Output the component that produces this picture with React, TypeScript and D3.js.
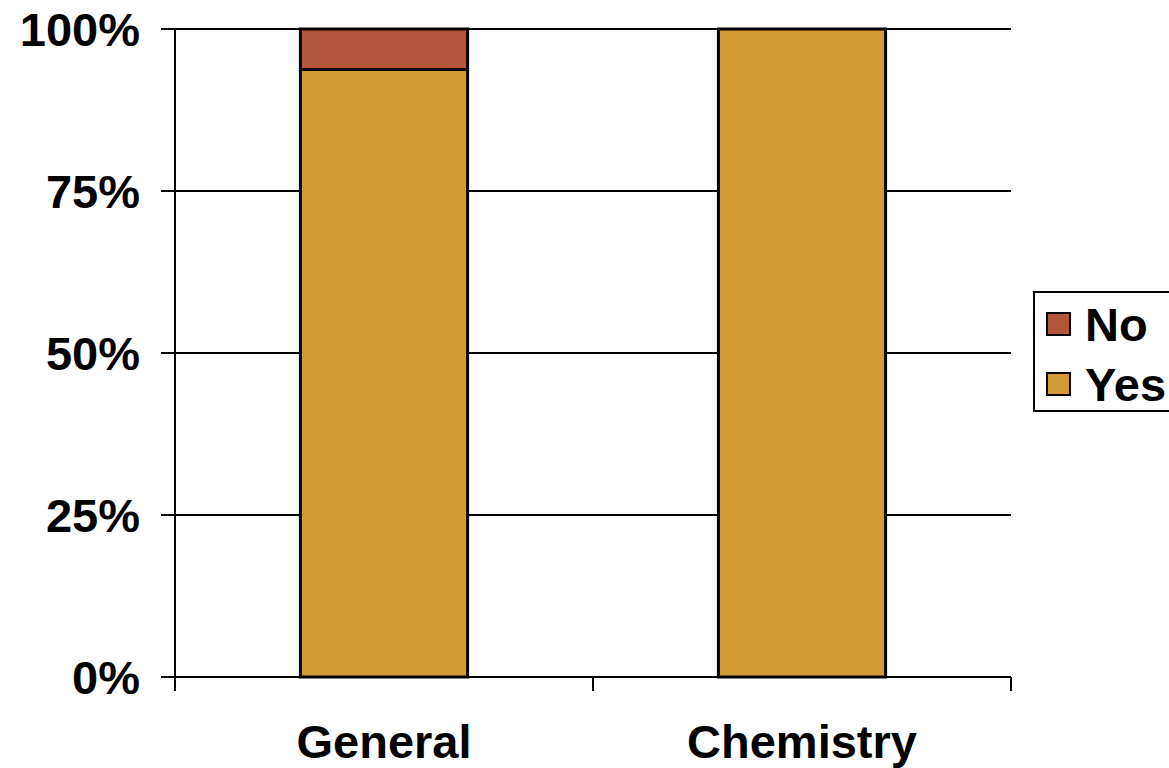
import React from "react";
import * as d3 from "d3";

const categories = ["General", "Chemistry"];
const yesValues = [93.75, 100];
const noValues = [6.25, 0];
const seriesNames = ["No", "Yes"];
const yTicks = [0, 25, 50, 75, 100];

const W = 1169, H = 768;
const M = { left: 175, right: 1011, top: 29, bottom: 677 };
const colors: Record<string, string> = { Yes: "#D29B35", No: "#B3553A" };
const font = "'Liberation Sans', Arial, sans-serif";
const FS = 47;

export default function App() {
  const x = d3.scaleBand().domain(categories).range([M.left, M.right]).paddingInner(0.6).paddingOuter(0.3);
  const y = d3.scaleLinear().domain([0, 100]).range([M.bottom, M.top]);
  const data = categories.map((c, i) => ({ cat: c, Yes: yesValues[i], No: noValues[i] }));
  const stack = d3.stack<any>().keys(["Yes", "No"])(data);
  const step = (M.right - M.left) / categories.length;
  return (
    <svg width={W} height={H} style={{ position: "absolute", left: 0, top: 0, background: "#fff" }}>
      {yTicks.map((t) => (
        <g key={t}>
          {t > 0 && <line x1={M.left} x2={M.right} y1={y(t)} y2={y(t)} stroke="#000" strokeWidth={2} />}
          <line x1={M.left - 14} x2={M.left} y1={y(t)} y2={y(t)} stroke="#000" strokeWidth={2} />
          <text x={140} y={y(t)} dy="0.36em" textAnchor="end" fontFamily={font} fontWeight="bold" fontSize={FS}>{t}%</text>
        </g>
      ))}
      {stack.map((s) => s.map((d, i) => {
        const h = y(d[0]) - y(d[1]);
        if (h <= 0) return null;
        return <rect key={s.key + i} x={x(categories[i])!} width={x.bandwidth()} y={y(d[1])} height={h} fill={colors[s.key]} stroke="#000" strokeWidth={3} />;
      }))}
      <line x1={M.left} x2={M.left} y1={M.top} y2={M.bottom} stroke="#000" strokeWidth={2} />
      <line x1={M.left} x2={M.right} y1={M.bottom} y2={M.bottom} stroke="#000" strokeWidth={2} />
      {d3.range(categories.length + 1).map((i) => (
        <line key={i} x1={M.left + i * step} x2={M.left + i * step} y1={M.bottom} y2={M.bottom + 14} stroke="#000" strokeWidth={2} />
      ))}
      {categories.map((c) => (
        <text key={c} x={x(c)! + x.bandwidth() / 2} y={758} textAnchor="middle" fontFamily={font} fontWeight="bold" fontSize={FS}>{c}</text>
      ))}
      <rect x={1034} y={292} width={160} height={119} fill="#fff" stroke="#000" strokeWidth={2} />
      {seriesNames.map((n, i) => (
        <g key={n}>
          <rect x={1047} y={313 + i * 60} width={23} height={22} fill={colors[n]} stroke="#000" strokeWidth={2} />
          <text x={1085} y={324 + i * 60} dy="0.36em" fontFamily={font} fontWeight="bold" fontSize={FS}>{n}</text>
        </g>
      ))}
    </svg>
  );
}
